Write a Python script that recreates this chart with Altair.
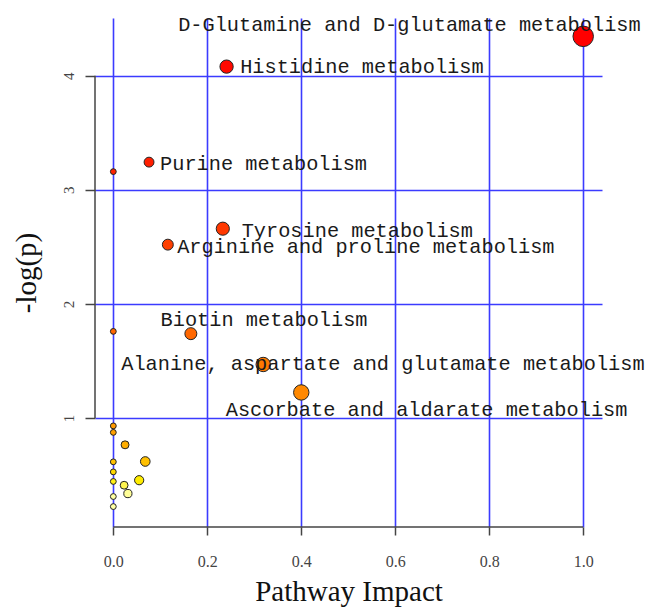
import altair as alt
import pandas as pd

# ---- data ----
pathway = [
    "D-Glutamine and D-glutamate metabolism",
    "Histidine metabolism",
    "Purine metabolism",
    "",
    "Tyrosine metabolism",
    "Arginine and proline metabolism",
    "Biotin metabolism",
    "",
    "Alanine, aspartate and glutamate metabolism",
    "Ascorbate and aldarate metabolism",
    "", "", "", "", "", "", "", "", "", "", "", "",
]
impact = [1.0, 0.241, 0.076, 0.0, 0.233, 0.116, 0.165, 0.0, 0.319, 0.40,
          0.0, 0.0, 0.025, 0.0, 0.068, 0.0, 0.0, 0.055, 0.023, 0.031, 0.0, 0.0]
neglogp = [4.345, 4.08, 3.243, 3.16, 2.66, 2.52, 1.74, 1.76, 1.47, 1.225,
           0.932, 0.875, 0.766, 0.617, 0.62, 0.529, 0.445, 0.456, 0.412, 0.339, 0.313, 0.225]

x_ticks = [0.0, 0.2, 0.4, 0.6, 0.8, 1.0]
y_ticks = [1, 2, 3, 4]

df = pd.DataFrame({"pathway": pathway, "impact": impact, "neglogp": neglogp,
                   "id": list(range(len(pathway)))})

# label placement (pixel offsets from the point centre)
label_offsets = {
    "D-Glutamine and D-glutamate metabolism": (-173.8, -5.7),
    "Histidine metabolism": (135.3, 6.5),
    "Purine metabolism": (114.5, 8.0),
    "Tyrosine metabolism": (134.5, 8.0),
    "Arginine and proline metabolism": (198.0, 8.5),
    "Biotin metabolism": (73.2, -7.6),
    "Alanine, aspartate and glutamate metabolism": (119.7, 5.7),
    "Ascorbate and aldarate metabolism": (125.3, 23.4),
}

W, H = 507, 509
xscale = alt.Scale(domain=[-0.039, 1.04], nice=False, zero=False)
yscale = alt.Scale(domain=[0.046, 4.506], nice=False, zero=False)

grid_color = "#3b3bff"

xaxis = alt.Axis(values=x_ticks, format=".1f", grid=True, gridColor=grid_color,
                 gridWidth=1.6, domain=False, tickColor="#444", tickWidth=1.5,
                 tickSize=8, labelFont="Liberation Serif", labelFontSize=16,
                 labelColor="#444", labelPadding=18, labelFlush=False,
                 labelOverlap=False, title="Pathway Impact",
                 titleFont="Liberation Serif", titleFontSize=29,
                 titleFontWeight="normal", titleColor="#111",
                 titleX=W / 2, titleY=73.3, titleBaseline="alphabetic",
                 titleAlign="center")
yaxis = alt.Axis(values=y_ticks, format="d", grid=True, gridColor=grid_color,
                 gridWidth=1.6, domain=False, tickColor="#444", tickWidth=1.5,
                 tickSize=10, labelFont="Liberation Serif", labelFontSize=15,
                 labelColor="#444", labelAngle=270, labelAlign="center",
                 labelBaseline="alphabetic", labelPadding=11.5,
                 labelFlush=False, labelOverlap=False, title="-log(p)",
                 titleFont="Liberation Serif", titleFontSize=29,
                 titleFontWeight="normal", titleColor="#111",
                 titleAngle=270, titleX=-59.3, titleY=254.5,
                 titleBaseline="alphabetic", titleAlign="center")

base = alt.Chart(df)

points = base.mark_circle(stroke="#222", strokeWidth=1, opacity=1).encode(
    x=alt.X("impact:Q", scale=xscale, axis=xaxis),
    y=alt.Y("neglogp:Q", scale=yscale, axis=yaxis),
    size=alt.Size("impact:Q",
                  scale=alt.Scale(type="pow", exponent=0.7, domain=[0, 1],
                                  range=[34, 420]),
                  legend=None),
    color=alt.Color("neglogp:Q",
                    scale=alt.Scale(domain=[0.225, 0.33, 0.45, 0.62, 0.93, 1.75, 2.6, 3.3, 4.345],
                                    range=["#FFFFFF", "#FFFFA0", "#FFEE00", "#FFC000",
                                           "#FF9900", "#FF6600", "#FF3A00", "#FF1A00", "#FF0000"]),
                    legend=None),
    order=alt.Order("id:Q"),
)

labels = []
for name, (dx, dy) in label_offsets.items():
    labels.append(
        base.transform_filter(alt.datum.pathway == name)
        .mark_text(font="Liberation Mono", fontSize=20.3, color="#1a1a1a",
                   align="center", baseline="alphabetic", dx=dx, dy=dy)
        .encode(x=alt.X("impact:Q", scale=xscale),
                y=alt.Y("neglogp:Q", scale=yscale),
                text="pathway:N")
    )

# R-style axis lines that only span the tick range
xline_df = pd.DataFrame({"a": [x_ticks[0]], "b": [x_ticks[-1]]})
yline_df = pd.DataFrame({"a": [y_ticks[0]], "b": [y_ticks[-1]]})
xline = alt.Chart(xline_df).mark_rule(color="#444", strokeWidth=1.5).encode(
    x=alt.X("a:Q", scale=xscale), x2="b:Q", y=alt.value(H))
yline = alt.Chart(yline_df).mark_rule(color="#444", strokeWidth=1.5).encode(
    y=alt.Y("a:Q", scale=yscale), y2="b:Q", x=alt.value(0))

chart = alt.layer(xline, yline, points, *labels).properties(
    width=W, height=H,
    autosize=alt.AutoSizeParams(type="none"),
    padding={"left": 95, "top": 18, "right": 45, "bottom": 80},
    view=alt.ViewBackground(stroke="transparent", strokeWidth=0, strokeOpacity=0),
).configure_view(stroke="transparent", strokeWidth=0, strokeOpacity=0
).configure(background="white")

chart.save("out.html", embed_options={"renderer": "svg", "actions": False})
